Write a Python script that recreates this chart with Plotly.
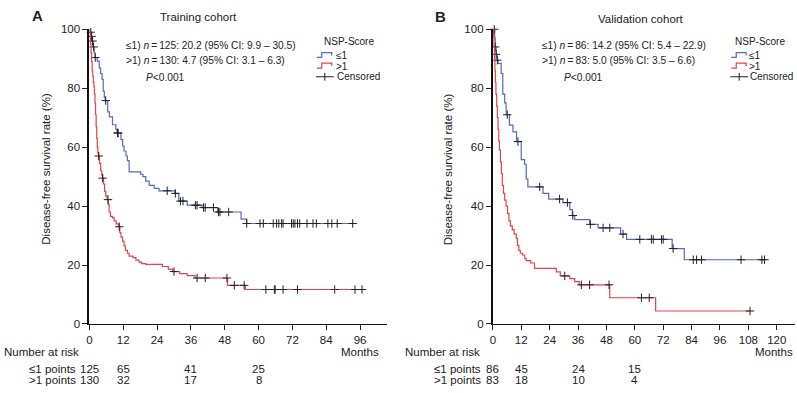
import plotly.graph_objects as go
from bisect import bisect_right

W, H = 797, 393
FONT = "Arial, 'Liberation Sans', Helvetica, sans-serif"
BLUE = "#5468c4"
RED = "#e8424c"

# ---------------- Panel A (Training cohort) ----------------
a_le1_t = [0.3, 0.6, 0.9, 1.3, 1.7, 2.0, 2.8, 3.5, 4.0, 4.5, 4.9, 5.3, 5.6, 6.5, 7.1, 8.2, 9.4,
           9.8, 11.2, 11.8, 12.3, 13.0, 13.5, 14.1, 18.2, 19.0, 20.0, 21.2, 23.0, 24.7, 30.2,
           31.7, 34.7, 40.0, 45.5, 53.8, 55.8]
a_le1_s = [99, 97.6, 96, 94, 92, 90.4, 89.2, 86.8, 85, 83, 79, 77, 75.8, 72, 70.3, 67.6, 66,
           64.8, 62.6, 60.4, 58.7, 57, 55.4, 51.6, 50.8, 50, 48.5, 47, 46, 45.2, 44.3,
           41.7, 40.3, 39.5, 38.0, 35.6, 34.1]
a_le1_end = 93.4
a_le1_cens = [0.5, 0.8, 1.1, 1.5, 2.1, 5.8, 10.0, 10.2, 27.6, 30.5, 32.3, 33.2, 37.6, 38.2,
              40.5, 41.1, 44.0, 45.8, 46.3, 49.4, 55.8, 60.5, 61.7, 65.2, 66.4, 67.2, 68.2,
              68.7, 71.7, 72.3, 72.9, 73.8, 74.6, 77.2, 79.3, 80.5, 84.6, 86.0, 87.9, 93.4]

a_gt1_t = [0.2, 0.4, 0.6, 0.8, 1.0, 1.2, 1.4, 1.6, 1.8, 2.0, 2.2, 2.4, 2.6, 2.8, 3.0, 3.3, 3.6,
           4.0, 4.4, 4.7, 5.0, 5.4, 5.8, 6.3, 6.7, 7.0, 7.5, 8.2, 8.8, 9.5, 10.3, 10.8, 11.2,
           11.8, 12.3, 12.8, 13.5, 14.1, 15.5, 16.5, 17.6, 18.5, 20.0, 25.9, 28.0, 29.5, 32.0,
           34.7, 37.5, 49.0, 55.3]
a_gt1_s = [98, 95, 92, 89, 86, 84, 82, 80.5, 78, 75, 71, 67, 63, 60, 58, 57, 54.5,
           52, 50.5, 49.5, 47.5, 45, 43.5, 42.2, 40.5, 38, 36.5, 36, 35, 34, 33, 31, 29.5,
           28, 26.5, 25, 24, 23, 22.5, 21.7, 21, 20.5, 20.2, 19.5, 18.6, 17.8, 17.1,
           16.4, 15.6, 13.1, 11.7]
a_gt1_end = 96.7
a_gt1_cens = [3.3, 4.7, 6.6, 10.6, 30.0, 38.2, 41.1, 48.8, 51.4, 54.9, 62.6, 65.6, 65.9,
              68.7, 73.8, 87.0, 94.2, 96.7]

# ---------------- Panel B (Validation cohort) ----------------
b_le1_t = [0.8, 1.0, 1.4, 1.8, 2.2, 3.5, 4.2, 5.0, 5.6, 7.0, 8.5, 10.0, 12.0, 13.4, 14.1, 14.8,
           21.2, 23.6, 29.6, 32.5, 33.6, 34.6, 40.9, 44.5, 54.0, 56.5, 75.8, 80.9]
b_le1_s = [97, 94, 91.5, 89.5, 88.4, 85, 78, 75, 71, 67.5, 65.2, 61.9, 55.8, 54.2, 49.2, 46.5,
           44.3, 42.4, 41.2, 38.8, 36.8, 35.4, 33.8, 32.6, 30.5, 28.7, 25.6, 21.8]
b_le1_end = 114.8
b_le1_cens = [0.6, 1.0, 1.4, 1.9, 6.1, 10.6, 19.8, 28.2, 31.5, 33.8, 41.2, 46.6, 49.4, 55.0,
              62.1, 67.0, 67.8, 71.3, 72.0, 76.2, 84.7, 86.1, 88.2, 104.9, 113.7, 114.8]

b_gt1_t = [0.3, 0.5, 0.7, 0.9, 1.1, 1.3, 1.6, 1.9, 2.2, 2.5, 2.8, 3.2, 3.6, 4.0, 4.5, 5.0, 5.6,
           6.2, 6.8, 7.4, 8.2, 9.0, 9.9, 10.4, 11.0, 11.6, 12.5, 13.5, 14.1, 16.0, 17.6, 26.8,
           28.5, 32.5, 34.6, 36.5, 49.4, 68.8]
b_gt1_s = [97.5, 94, 90, 86, 82, 78, 74, 70, 66, 62, 59, 55, 51, 47, 44.3, 42, 40,
           37.5, 35, 33.3, 32, 30.5, 29, 26.7, 25, 24, 23.4, 22.2, 21.5, 20.7, 18.9, 17.7,
           16.3, 15.4, 14.4, 13.3, 8.9, 4.4]
b_gt1_end = 108.7
b_gt1_cens = [30.4, 37.4, 40.9, 49.1, 62.8, 66.1, 108.7]

# ---------------- Number at risk ----------------
risk_months = [0, 12, 36, 60]
a_risk_le1 = [125, 65, 41, 25]
a_risk_gt1 = [130, 32, 17, 8]
b_risk_le1 = [86, 45, 24, 15]
b_risk_gt1 = [83, 18, 10, 4]

a_xticks = list(range(0, 97, 12))
b_xticks = list(range(0, 121, 12))
y_ticks = [0, 20, 40, 60, 80, 100]

a_lines = ["\u22641) <i>n</i>\u2009=\u2009125: 20.2 (95% CI: 9.9 \u2013 30.5)",
           ">1) <i>n</i>\u2009=\u2009130: 4.7 (95% CI: 3.1 \u2013 6.3)"]
b_lines = ["\u22641) <i>n</i>\u2009=\u200986: 14.2 (95% CI: 5.4 \u2013 22.9)",
           ">1) <i>n</i>\u2009=\u200983: 5.0 (95% CI: 3.5 \u2013 6.6)"]


def px(x):
    return x / W


def py(y):
    return 1 - y / H


def km_xy(t, s, end):
    return [0] + t + [end], [100] + s + [s[-1]]


def cens_y(t, s, cens):
    out = []
    for c in cens:
        i = bisect_right(t, c)
        out.append(100 if i == 0 else s[i - 1])
    return out


fig = go.Figure()


def add_group(t, s, end, cens, color, xa, ya):
    x, y = km_xy(t, s, end)
    fig.add_trace(go.Scatter(x=x, y=y, mode="lines", line=dict(color=color, width=1.2, shape="hv"),
                             xaxis=xa, yaxis=ya, showlegend=False, hoverinfo="skip"))
    fig.add_trace(go.Scatter(x=cens, y=cens_y(t, s, cens), mode="markers",
                             marker=dict(symbol="cross-thin", size=6,
                                         line=dict(color="#222", width=1)),
                             xaxis=xa, yaxis=ya, showlegend=False, hoverinfo="skip",
                             cliponaxis=False))


add_group(a_le1_t, a_le1_s, a_le1_end, a_le1_cens, BLUE, "x", "y")
add_group(a_gt1_t, a_gt1_s, a_gt1_end, a_gt1_cens, RED, "x", "y")
add_group(b_le1_t, b_le1_s, b_le1_end, b_le1_cens, BLUE, "x2", "y2")
add_group(b_gt1_t, b_gt1_s, b_gt1_end, b_gt1_cens, RED, "x2", "y2")

ydom = [py(328), py(24)]
tickfont = dict(family=FONT, size=11.5, color="#222")


def xaxis(dom, rng, ticks, anchor):
    return dict(domain=dom, range=rng, tickvals=ticks, ticks="outside", ticklen=5, tickwidth=1,
                tickcolor="#222", showline=True, linecolor="#111", linewidth=1.3,
                showgrid=False, zeroline=False, anchor=anchor, tickfont=tickfont, fixedrange=True)


def yaxis(rng, ticks, anchor):
    return dict(domain=ydom, range=rng, tickvals=ticks, ticks="outside", ticklen=5, tickwidth=1,
                tickcolor="#222", showline=True, linecolor="#111", linewidth=2,
                showgrid=False, zeroline=False, anchor=anchor, tickfont=tickfont, fixedrange=True)


fig.update_layout(
    width=W, height=H, autosize=False,
    margin=dict(l=0, r=0, t=0, b=0),
    paper_bgcolor="white", plot_bgcolor="white",
    font=dict(family=FONT, color="#222"),
    xaxis=xaxis([px(86.7), px(385)], [0, 105.4], a_xticks, "y"),
    yaxis=yaxis([0, 100], y_ticks, "x"),
    xaxis2=xaxis([px(491.7), px(795)], [0, 127.7], b_xticks, "y2"),
    yaxis2=yaxis([0, 100], y_ticks, "x2"),
)

ann = []


def text(x, y, s, size=10.2, xanchor="left", xref="paper", **kw):
    ann.append(dict(x=x if xref != "paper" else px(x), y=py(y), xref=xref, yref="paper", text=s,
                    showarrow=False, xanchor=xanchor, yanchor="middle", borderpad=0,
                    font=dict(family=FONT, size=size, color="#222"), **kw))


# panel letters and titles
text(28, 10, "<b>A</b>", size=15)
text(433, 11, "<b>B</b>", size=15)
text(196, 11, "Training cohort", size=11.5, xanchor="center")
text(640, 13, "Validation cohort", size=11.5, xanchor="center")

# y axis titles
for xc in (43, 447):
    ann.append(dict(x=px(xc), y=py(168), xref="paper", yref="paper",
                    text="Disease-free survival rate (%)", textangle=-90, showarrow=False,
                    xanchor="center", yanchor="middle",
                    font=dict(family=FONT, size=11.5, color="#222")))

# statistics text
text(122, 41, a_lines[0])
text(122, 56, a_lines[1])
text(143, 74, "<i>P</i>&lt;0.001")
text(540, 41, b_lines[0])
text(540, 56, b_lines[1])
text(562, 74, "<i>P</i>&lt;0.001")

# legends
shapes = []


def legend(x_title, x_icon, x_text):
    text(x_title, 37, "NSP-Score", size=10, xanchor="center")
    text(x_text, 51, "\u22641", size=10)
    text(x_text, 62, ">1", size=10)
    text(x_text + 1, 73, "Censored", size=10)
    for yy, col in ((51, BLUE), (62, RED)):
        x0, x1 = x_icon, x_icon + 15
        path = (f"M {px(x0)},{py(yy + 2)} L {px(x0 + 5)},{py(yy + 2)} L {px(x0 + 5)},{py(yy - 3)} "
                f"L {px(x1)},{py(yy - 3)} L {px(x1)},{py(yy)}")
        shapes.append(dict(type="path", path=path, xref="paper", yref="paper",
                           line=dict(color=col, width=1.2)))
    shapes.append(dict(type="line", x0=px(x_icon - 1), x1=px(x_icon + 17), y0=py(73), y1=py(73),
                       xref="paper", yref="paper", line=dict(color="#222", width=1)))
    shapes.append(dict(type="line", x0=px(x_icon + 8), x1=px(x_icon + 8), y0=py(69), y1=py(77),
                       xref="paper", yref="paper", line=dict(color="#222", width=1)))


legend(347, 315, 333)
legend(760, 731, 748)

# number at risk tables
for xl, xr, xmon, xa, le1, gt1 in ((0, 74, 358, "x", a_risk_le1, a_risk_gt1),
                                   (403, 481, 774, "x2", b_risk_le1, b_risk_gt1)):
    text(xl, 357, "Number at risk", size=11.5)
    text(xmon, 357, "Months", size=11.5, xanchor="center")
    text(xr, 374, "\u22641 points", size=11.5, xanchor="right")
    text(xr, 386, ">1 points", size=11.5, xanchor="right")
    for m, v1, v2 in zip(risk_months, le1, gt1):
        text(m, 374, str(v1), size=11.5, xanchor="center", xref=xa)
        text(m, 386, str(v2), size=11.5, xanchor="center", xref=xa)

fig.update_layout(annotations=ann, shapes=shapes)
fig.write_html("out.html", config={"displayModeBar": False, "staticPlot": True},
               post_script="document.body.style.margin='0';document.body.style.overflow='hidden';")
